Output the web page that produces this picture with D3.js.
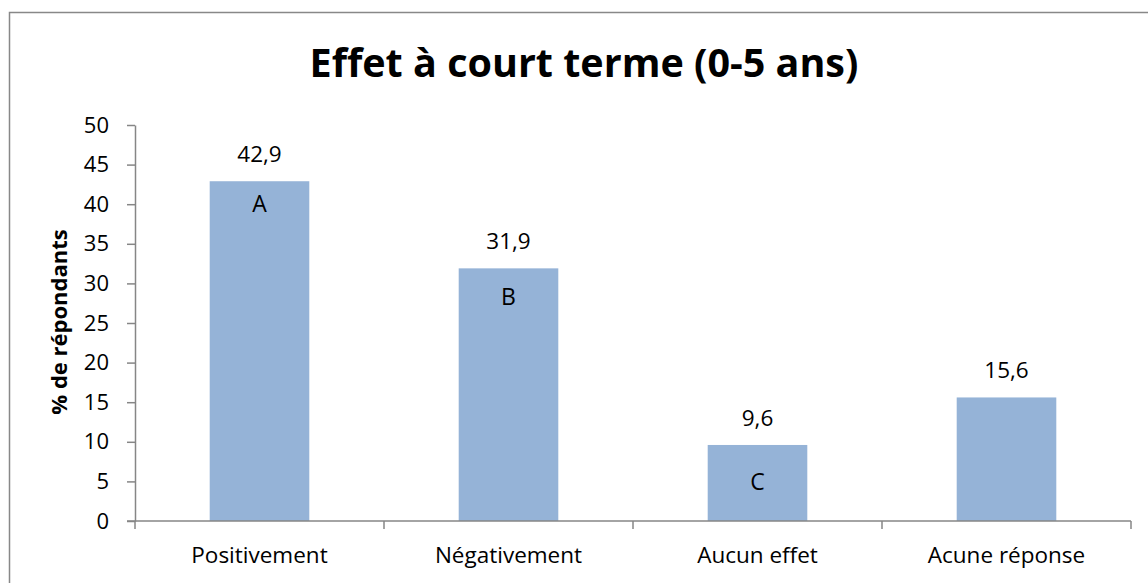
<!DOCTYPE html>
<html>
<head>
<meta charset="utf-8">
<script src="https://cdn.jsdelivr.net/npm/d3@7"></script>
<style>
  html, body { margin: 0; background: #fff; overflow: hidden; }
  svg { display: block; font-family: "Open Sans", sans-serif; }
</style>
</head>
<body>
<script>
// données du graphique
const categories = ["Positivement", "Négativement", "Aucun effet", "Acune réponse"];
const valeurs = [42.9, 31.9, 9.6, 15.6];
const lettresBarres = ["A", "B", "C", ""];
const yTicks = [0, 5, 10, 15, 20, 25, 30, 35, 40, 45, 50];

const width = 1148, height = 583;
const margin = { left: 135, right: 17, top: 125, bottom: 62 };
// décalage vertical des lettres sous le haut de chaque barre (placées à la main dans l'original)
const decalLettres = [31, 37, 45, 0];

const svg = d3.select("body")
  .append("svg")
  .attr("width", width)
  .attr("height", height);

// cadre du graphique (dépasse à droite et en bas)
svg.append("rect")
  .attr("x", 9.5).attr("y", 12.5)
  .attr("width", 1160).attr("height", 600)
  .attr("fill", "none")
  .attr("stroke", "#888")
  .attr("stroke-width", 1.5);

const x = d3.scaleBand()
  .domain(categories)
  .range([margin.left, width - margin.right])
  .paddingInner(0.6)
  .paddingOuter(0.3);

const y = d3.scaleLinear()
  .domain([0, 50])
  .range([height - margin.bottom, margin.top]);

// barres
svg.selectAll("rect.bar")
  .data(valeurs)
  .join("rect")
  .attr("class", "bar")
  .attr("x", (d, i) => x(categories[i]))
  .attr("width", x.bandwidth())
  .attr("y", d => y(d))
  .attr("height", d => y(0) - y(d))
  .attr("fill", "#95b3d7");

// axe Y
const yAxis = svg.append("g")
  .attr("transform", `translate(${margin.left},0)`)
  .call(d3.axisLeft(y).tickValues(yTicks).tickSize(8).tickSizeOuter(0).tickPadding(18));
yAxis.selectAll("text").attr("font-size", 22).attr("fill", "#000").attr("font-family", "Open Sans");

// axe X : graduations entre les catégories
const step = x.step();
const bornes = d3.range(categories.length + 1).map(i => margin.left + i * step);
const xAxisG = svg.append("g");
xAxisG.append("line")
  .attr("x1", margin.left - 8).attr("x2", width - margin.right)
  .attr("y1", y(0)).attr("y2", y(0));
xAxisG.selectAll("line.t")
  .data(bornes)
  .join("line")
  .attr("class", "t")
  .attr("x1", d => d).attr("x2", d => d)
  .attr("y1", y(0)).attr("y2", y(0) + 8);
xAxisG.selectAll("line").attr("stroke", "#868686").attr("stroke-width", 1.5);

svg.selectAll("path.domain, .tick line").attr("stroke", "#868686").attr("stroke-width", 1.5);

xAxisG.selectAll("text")
  .data(categories)
  .join("text")
  .attr("x", d => x(d) + x.bandwidth() / 2)
  .attr("y", 563)
  .attr("text-anchor", "middle")
  .attr("font-size", 22.5)
  .text(d => d);

// étiquettes de valeurs
svg.selectAll("text.val")
  .data(valeurs)
  .join("text")
  .attr("class", "val")
  .attr("x", (d, i) => x(categories[i]) + x.bandwidth() / 2)
  .attr("y", d => y(d) - 19)
  .attr("text-anchor", "middle")
  .attr("font-size", 22.5)
  .text(d => d.toFixed(1).replace(".", ","));

// lettres dans les barres
svg.selectAll("text.lettre")
  .data(valeurs)
  .join("text")
  .attr("class", "lettre")
  .attr("x", (d, i) => x(categories[i]) + x.bandwidth() / 2)
  .attr("y", (d, i) => y(d) + decalLettres[i])
  .attr("text-anchor", "middle")
  .attr("font-size", 23)
  .text((d, i) => lettresBarres[i]);

// titre
svg.append("text")
  .attr("x", 584)
  .attr("y", 77)
  .attr("text-anchor", "middle")
  .attr("font-size", 39.5)
  .attr("font-weight", "bold")
  .text("Effet à court terme (0-5 ans)");

// titre de l'axe Y
svg.append("text")
  .attr("transform", `translate(67,322) rotate(-90)`)
  .attr("text-anchor", "middle")
  .attr("font-size", 22)
  .attr("font-weight", "bold")
  .text("% de répondants");
</script>
</body>
</html>
